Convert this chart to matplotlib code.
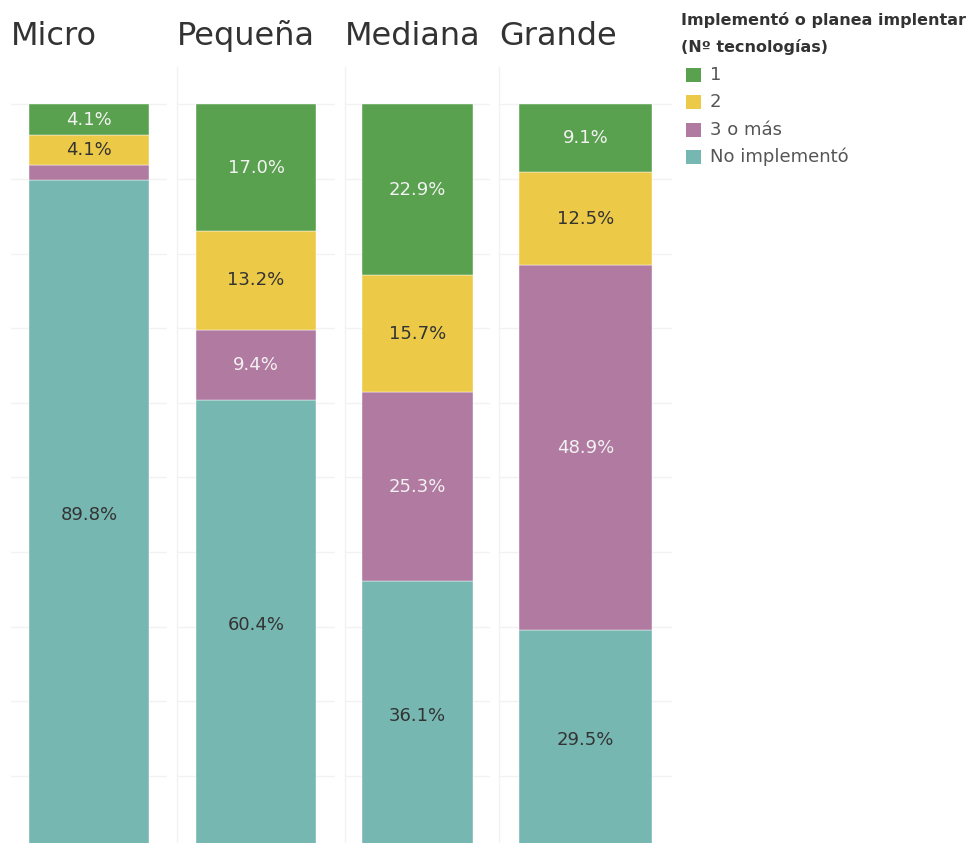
import matplotlib.pyplot as plt
from matplotlib.patches import Rectangle
import numpy as np

plt.rcParams['font.family'] = ['DejaVu Sans']

# data
sizes = ['Micro', 'Pequeña', 'Mediana', 'Grande']
categories = ['1', '2', '3 o más', 'No implementó']
colors = ['#59a14f', '#edc948', '#b07aa1', '#76b7b2']
label_colors = ['#f2f2f2', '#333333', '#f2f2f2', '#333333']
share_1 = [4.1, 17.0, 22.9, 9.1]
share_2 = [4.1, 13.2, 15.7, 12.5]
share_3 = [2.0, 9.4, 25.3, 48.9]
share_none = [89.8, 60.4, 36.1, 29.5]

W, H = 971, 843
fig = plt.figure(figsize=(W / 100, H / 100), dpi=100)

# panel extents in pixels (left, right)
panels = [(11, 167), (177, 335), (345, 490), (499, 672)]
top_px, bottom_px = 67, 843

series = [share_1, share_2, share_3, share_none]

for i, (name, (x0, x1)) in enumerate(zip(sizes, panels)):
    ax = fig.add_axes([x0 / W, 1 - bottom_px / H, (x1 - x0) / W, (bottom_px - top_px) / H])
    ax.set_xlim(-0.5, 0.5)
    ax.set_ylim(1.0, 105)
    # stack from bottom: no implementó, 3+, 2, 1
    bottom = 0
    for j in [3, 2, 1, 0]:
        v = series[j][i]
        ax.bar(0, v, width=0.765, bottom=bottom, color=colors[j],
               edgecolor='#ffffff', linewidth=0.3, zorder=3)
        if v >= 3:
            ax.text(0, bottom + v / 2, f'{v:.1f}%', ha='center', va='center',
                    fontsize=13, color=label_colors[j], zorder=4)
        bottom += v
    ax.set_yticks(np.arange(10, 101, 10))
    ax.yaxis.grid(True, color='#f2f2f2', linewidth=1.0, zorder=0)
    ax.set_xticks([])
    ax.tick_params(left=False, labelleft=False)
    for s in ['top', 'right', 'bottom']:
        ax.spines[s].set_visible(False)
    if i == 0:
        ax.spines['left'].set_visible(False)
    else:
        ax.spines['left'].set_color('#f2f2f2')
        ax.spines['left'].set_linewidth(1.0)
    ax.set_title(name, loc='left', fontsize=23, color='#333333', pad=16, x=0.0)

# legend
fig.text(681 / W, 1 - 20 / H, 'Implementó o planea implentar', fontsize=11.5,
         fontweight='bold', color='#333333', va='center', ha='left')
fig.text(681 / W, 1 - 47 / H, '(Nº tecnologías)', fontsize=11.5,
         fontweight='bold', color='#333333', va='center', ha='left')
for k, (cat, col) in enumerate(zip(categories, colors)):
    yc = 75 + k * 27.3
    fig.patches.append(Rectangle((686 / W, 1 - (yc + 7) / H), 15 / W, 14 / H,
                                 transform=fig.transFigure, facecolor=col,
                                 edgecolor='none', figure=fig))
    fig.text(710 / W, 1 - yc / H, cat, fontsize=13, color='#555555',
             va='center', ha='left')

fig.savefig('out.png', dpi=100, facecolor='white')
